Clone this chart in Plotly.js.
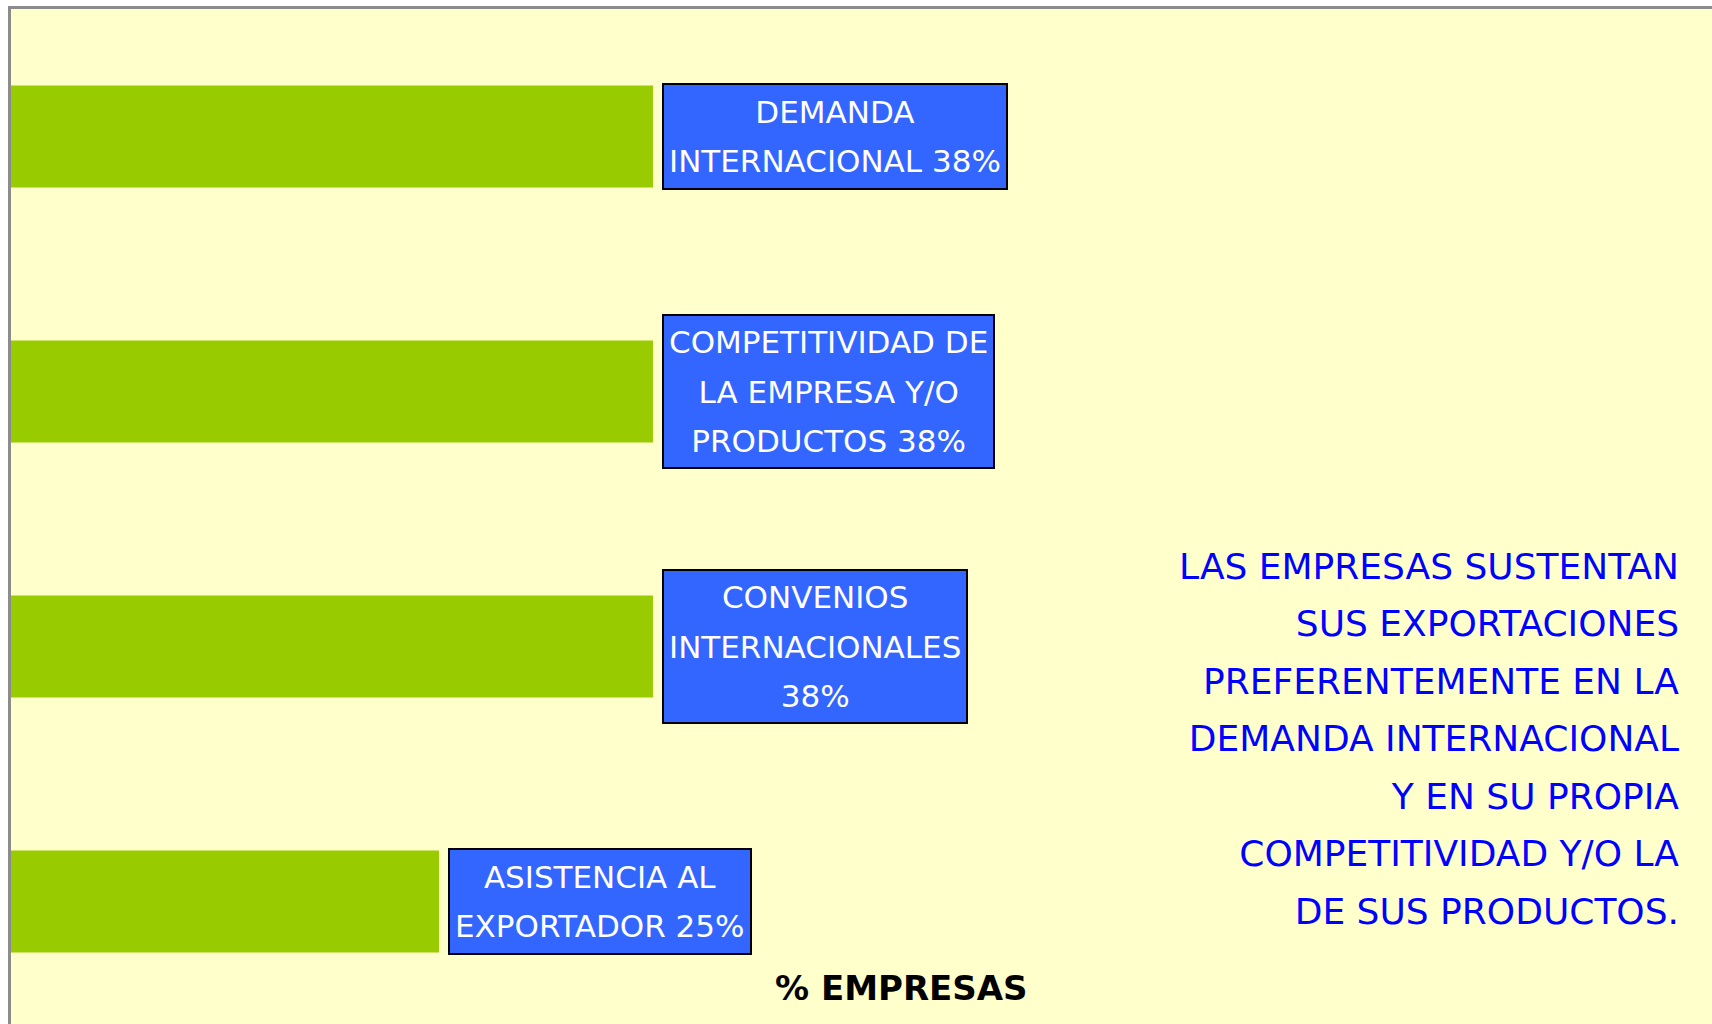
<!DOCTYPE html>
<html>
<head>
<meta charset="utf-8">
<script src="https://cdn.plot.ly/plotly-3.0.1.min.js"></script>
<style>
  html, body { margin: 0; padding: 0; background: #ffffff; }
  #chart { width: 1712px; height: 1024px; }
</style>
</head>
<body>
<div id="chart"></div>
<script>
// ---- Data ----
const categories = [
  "DEMANDA INTERNACIONAL",
  "COMPETITIVIDAD DE LA EMPRESA Y/O PRODUCTOS",
  "CONVENIOS INTERNACIONALES",
  "ASISTENCIA AL EXPORTADOR"
];
const values = [37.5, 37.5, 37.5, 25];
const barLabels = [
  "DEMANDA<br>INTERNACIONAL 38%",
  "COMPETITIVIDAD DE<br>LA EMPRESA Y/O<br>PRODUCTOS 38%",
  "CONVENIOS<br>INTERNACIONALES<br>38%",
  "ASISTENCIA AL<br>EXPORTADOR 25%"
];
const xAxisTitle = "% EMPRESAS";
const noteLines = [
  "LAS EMPRESAS SUSTENTAN",
  "SUS EXPORTACIONES",
  "PREFERENTEMENTE EN LA",
  "DEMANDA INTERNACIONAL",
  "Y EN SU PROPIA",
  "COMPETITIVIDAD Y/O LA",
  "DE SUS PRODUCTOS."
];

// ---- Helpers ----
const FONT = "DejaVu Sans";
function sized(lines, px) {
  return lines.map(l => '<span style="font-size:' + px + 'px">' + l + '</span>').join('<br>');
}

const trace = {
  type: 'bar',
  orientation: 'h',
  x: values,
  y: categories,
  marker: { color: '#99CC00', line: { width: 0 } },
  hoverinfo: 'none'
};

const annotations = [];
categories.forEach((c, i) => {
  const lines = barLabels[i].split('<br>');
  annotations.push({
    x: values[i], y: c, xref: 'x', yref: 'y',
    xanchor: 'left', yanchor: 'middle', xshift: 9,
    showarrow: false,
    text: sized(lines, 31),
    font: { family: FONT, size: 37.7, color: '#ffffff' },
    align: 'center', valign: 'middle',
    bgcolor: '#3366FF', bordercolor: '#000000', borderwidth: 2, borderpad: 5,
    height: 48 * lines.length - 3
  });
});

annotations.push({
  x: 0.982, y: 0.2803, xref: 'paper', yref: 'paper',
  xanchor: 'right', yanchor: 'middle', showarrow: false,
  align: 'right',
  text: sized(noteLines, 36),
  font: { family: FONT, size: 44.2, color: '#0000FF' }
});

annotations.push({
  x: 0.5238, y: 0.035, xref: 'paper', yref: 'paper',
  xanchor: 'center', yanchor: 'middle', showarrow: false,
  text: '<b>' + xAxisTitle + '</b>',
  font: { family: FONT, size: 34, color: '#000000' }
});

const layout = {
  width: 1712, height: 1024,
  margin: { l: 11, r: 0, t: 9, b: 0, pad: 0 },
  paper_bgcolor: '#ffffff',
  plot_bgcolor: '#FFFFCC',
  showlegend: false,
  bargap: 0.6,
  xaxis: {
    range: [0, 99.36], side: 'top',
    showgrid: false, zeroline: false, showticklabels: false, ticks: '',
    showline: true, linecolor: '#8c8c8c', linewidth: 3
  },
  yaxis: {
    type: 'category', categoryorder: 'array', categoryarray: categories,
    range: [3.48, -0.5],
    showgrid: false, zeroline: false, showticklabels: false, ticks: '',
    showline: true, linecolor: '#8c8c8c', linewidth: 3
  },
  annotations: annotations
};

Plotly.newPlot('chart', [trace], layout, { staticPlot: true, displayModeBar: false });
</script>
</body>
</html>
